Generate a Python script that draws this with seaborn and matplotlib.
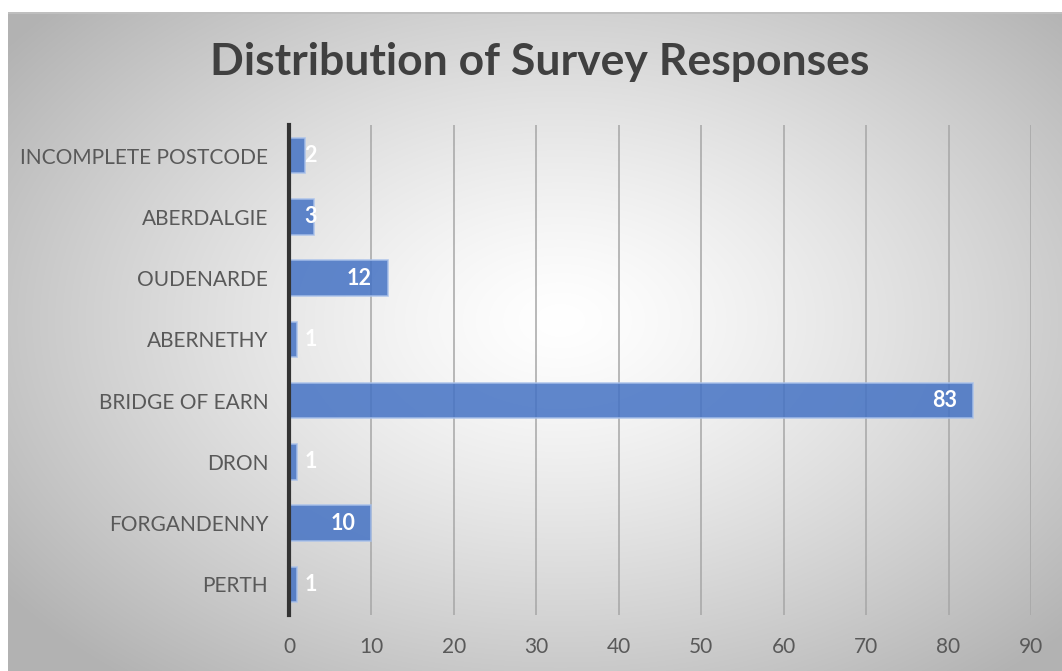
import numpy as np
import pandas as pd
import matplotlib.pyplot as plt
import seaborn as sns

# data (top to bottom)
categories = ['INCOMPLETE POSTCODE', 'ABERDALGIE', 'OUDENARDE', 'ABERNETHY',
              'BRIDGE OF EARN', 'DRON', 'FORGANDENNY', 'PERTH']
responses = [2, 3, 12, 1, 83, 1, 10, 1]
x_ticks = [0, 10, 20, 30, 40, 50, 60, 70, 80, 90]

df = pd.DataFrame({'area': categories, 'count': responses})

sns.set_theme(style='white')
plt.rcParams['font.family'] = ['Lato', 'DejaVu Sans']

W, H = 1062, 671
fig = plt.figure(figsize=(W / 100, H / 100), dpi=100)

# radial grey background like the spreadsheet chart area
bg = fig.add_axes([0, 0, 1, 1], zorder=0)
yy, xx = np.mgrid[0:H, 0:W]
cx, cy = 560, 320
r = np.sqrt(((xx - cx) / 600.0) ** 2 + ((yy - cy) / 400.0) ** 2)
shade = 1.0 - 0.25 * np.clip(r, 0, 1.15) ** 1.3
img = np.dstack([shade, shade, shade])
img[:12, :, :] = 1.0
img[:, :8, :] = 1.0
img[12:14, 8:, :] = 0.75
bg.imshow(img, extent=[0, W, H, 0], aspect='auto', interpolation='bilinear')
bg.set_axis_off()

ax = fig.add_axes([289 / W, 1 - 615 / H, (1031 - 289) / W, (615 - 125) / H], zorder=1)
ax.set_facecolor('none')

sns.barplot(data=df, x='count', y='area', orient='h', color='#4472C4',
            width=0.58, alpha=0.85, edgecolor='#a9c1ea', linewidth=1.2,
            saturation=1, ax=ax, zorder=3)

ax.set_xlim(0, 90)
ax.set_ylim(len(categories) - 0.5, -0.5)
ax.set_xticks(x_ticks)
ax.xaxis.grid(True, color='#a6a6a6', linewidth=1.1, zorder=0)
ax.set_axisbelow(True)
for s in ['top', 'right', 'bottom']:
    ax.spines[s].set_visible(False)
ax.spines['left'].set_color('#333333')
ax.spines['left'].set_linewidth(3)
ax.spines['left'].set_zorder(4)
ax.tick_params(axis='both', length=0, labelsize=15, colors='#595959')
ax.tick_params(axis='x', pad=16)
ax.tick_params(axis='y', pad=15)
ax.set_xlabel('')
ax.set_ylabel('')

# value labels at the inside end of each bar
for i, v in enumerate(responses):
    ax.text(max(v - 3.5, 2.6), i, str(v), ha='center', va='center',
            color='white', fontsize=15.5, fontweight='bold', zorder=5)

fig.text(540 / W, 1 - 62 / H, 'Distribution of Survey Responses', ha='center',
         va='center', fontsize=32, fontweight='bold', color='#404040')

fig.savefig('out.png', dpi=100)
